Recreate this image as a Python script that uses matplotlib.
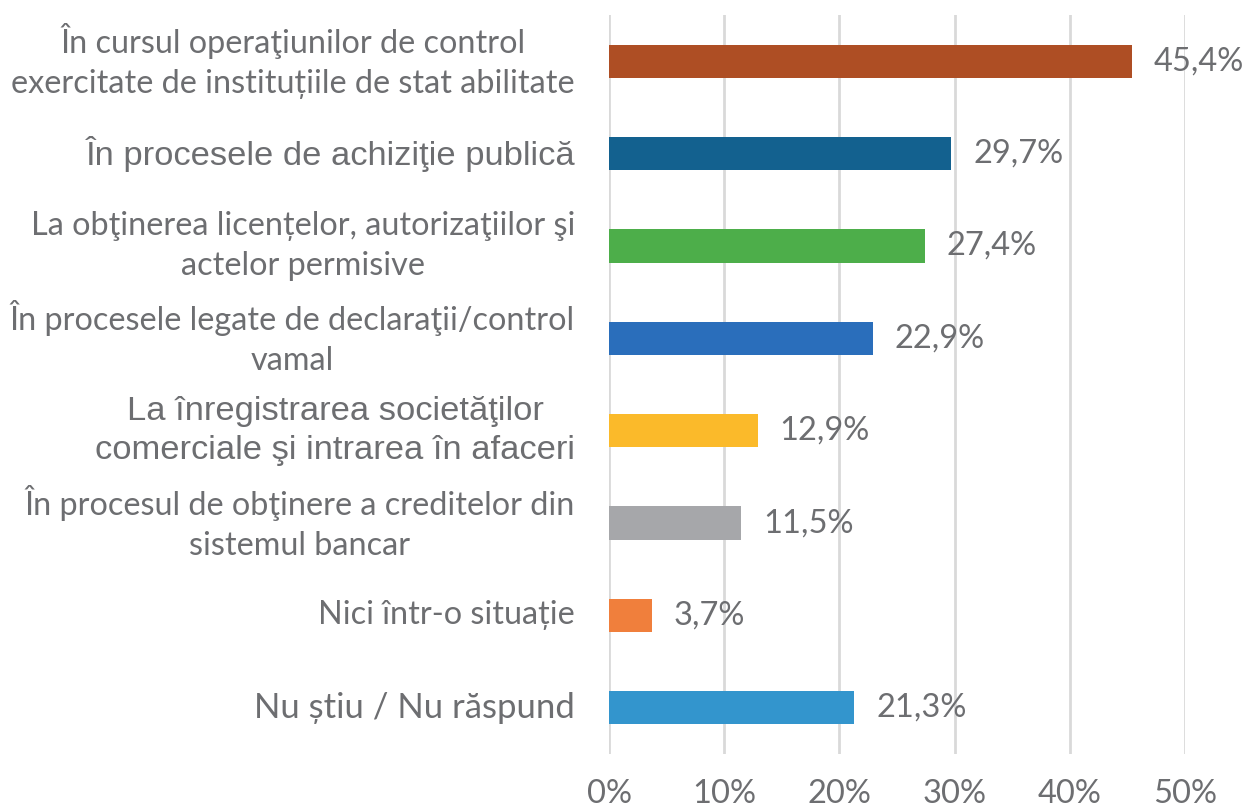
import matplotlib
matplotlib.use("Agg")
import matplotlib.pyplot as plt
from matplotlib.ticker import FuncFormatter

categories = [
    "În cursul operaţiunilor de control\nexercitate de instituțiile de stat abilitate",
    "În procesele de achiziţie publică",
    "La obţinerea licențelor, autorizaţiilor şi\nactelor permisive",
    "În procesele legate de declaraţii/control\nvamal",
    "La înregistrarea societăţilor\ncomerciale şi intrarea în afaceri",
    "În procesul de obţinere a creditelor din\nsistemul bancar",
    "Nici într-o situație",
    "Nu știu / Nu răspund",
]
values = [45.4, 29.7, 27.4, 22.9, 12.9, 11.5, 3.7, 21.3]
value_labels = ["45,4%", "29,7%", "27,4%", "22,9%", "12,9%", "11,5%", "3,7%", "21,3%"]
colors = ["#AE4E24", "#13618F", "#4DAE4A", "#2A6EBB", "#FBBA2A", "#A6A7AA", "#F07F3C", "#3395CD"]
label_fonts = ["Lato", "Liberation Sans", "Lato", "Lato", "Liberation Sans", "Lato", "Lato", "Lato"]
label_sizes = [23.3, 24.8, 23.3, 23.3, 24.8, 23.3, 23.3, 25]
label_spacing = [1.43, 1.2, 1.43, 1.43, 1.32, 1.43, 1.2, 1.2]
xticks = [0, 10, 20, 30, 40, 50]

TEXT = "#6D6E71"

fig = plt.figure(figsize=(12.42, 8.11), dpi=100)
ax = fig.add_axes([609/1242, 1-754/811, (1185-609)/1242, (754-15)/811])

ypos = list(range(len(categories)))
ax.barh(ypos, values, height=0.36, color=colors, zorder=3)
ax.set_ylim(len(categories) - 0.5, -0.5)
ax.set_xlim(0, 50)
ax.set_xticks(xticks)
ax.xaxis.set_major_formatter(FuncFormatter(lambda v, p: f"{int(v)}%"))
ax.grid(axis="x", color="#D9D9D9", linewidth=2, zorder=0)
ax.set_axisbelow(True)
for s in ax.spines.values():
    s.set_visible(False)
ax.tick_params(axis="x", length=0, pad=18, labelsize=23.5, labelcolor=TEXT)
for t in ax.get_xticklabels():
    t.set_fontfamily("Lato")
ax.set_yticks([])

for y, v, lab in zip(ypos, values, value_labels):
    ax.text(v + 1.9, y, lab, va="center", ha="left", fontsize=23.5,
            color=TEXT, family="Lato")

for y, cat, fam, sz, ls in zip(ypos, categories, label_fonts, label_sizes, label_spacing):
    ax.annotate(cat, xy=(0, y), xycoords=("axes fraction", "data"),
                xytext=(-34, 0), textcoords="offset pixels",
                ha="right", va="center", multialignment="center",
                fontsize=sz, color=TEXT, family=fam, linespacing=ls)

fig.savefig("out.png", dpi=100)
